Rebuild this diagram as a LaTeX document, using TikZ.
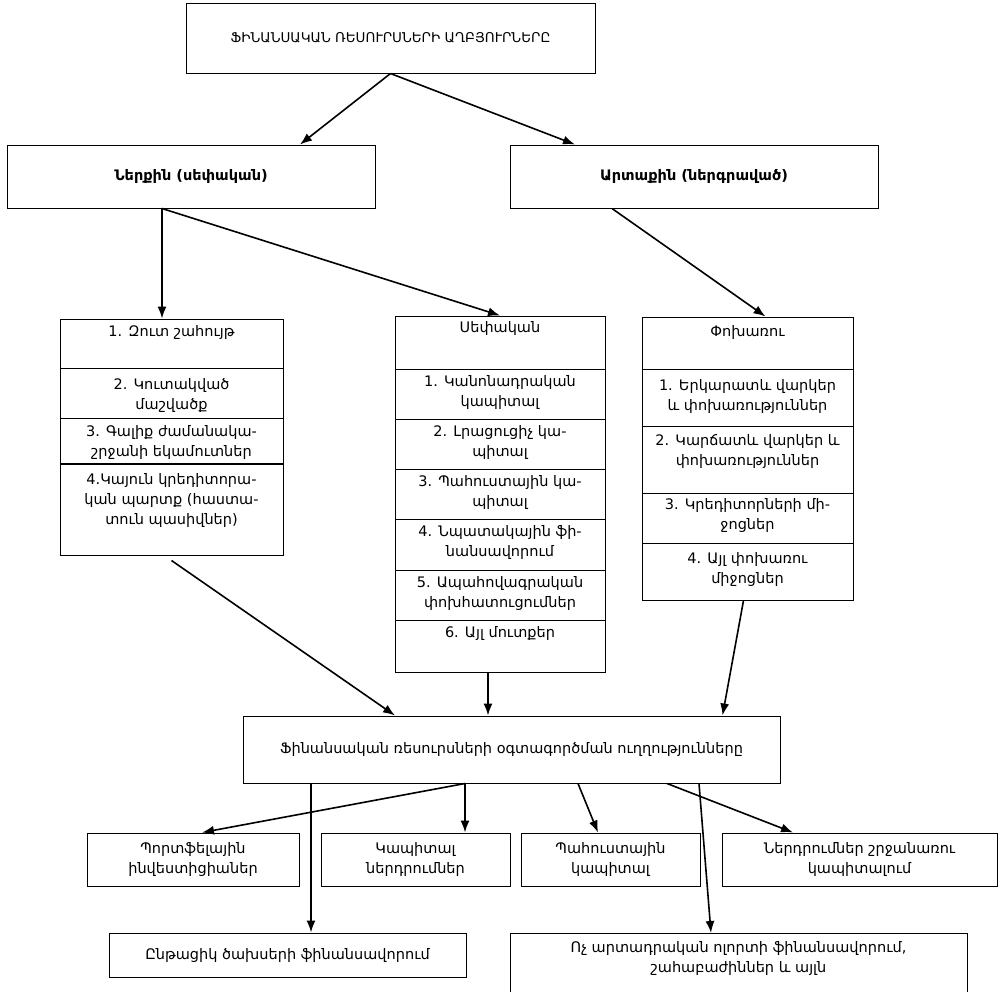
\documentclass[tikz,border=0pt]{standalone}
\usepackage{fontspec}
\setmainfont{DejaVu Sans}
\usetikzlibrary{arrows.meta}
\begin{document}
\begin{tikzpicture}[x=1pt,y=-1pt,
  txtfont/.style={font=\fontsize{14.5}{20}\selectfont},
  box/.style={draw, line width=1pt, inner sep=0pt, align=center, txtfont},
  lcell/.style={draw, line width=1pt, inner sep=0pt, minimum width=223},
  mcell/.style={draw, line width=1pt, inner sep=0pt, minimum width=210},
  rcell/.style={draw, line width=1pt, inner sep=0pt, minimum width=211},
  ctext/.style={anchor=north, align=center, inner sep=0pt, txtfont},
  sep/.style={line width=1.8pt},
  arr/.style={-{Latex[length=12pt,width=9pt]}, line width=1.6pt}
]
\useasboundingbox (0,0) rectangle (1004,991);

% title and the two groups of sources
\node[box, minimum width=409, minimum height=70, font=\fontsize{13.5}{18}\selectfont] (top) at (390.5,38) {ՖԻՆԱՆՍԱԿԱՆ ՌԵՍՈՒՐՍՆԵՐԻ ԱՂԲՅՈՒՐՆԵՐԸ};
\node[box, minimum width=368, minimum height=63, font=\fontsize{14.5}{18}\selectfont\bfseries] (hl) at (191,176.5) {Ներքին (սեփական)};
\node[box, minimum width=368, minimum height=63, font=\fontsize{14.5}{18}\selectfont\bfseries] (hr) at (694,176.5) {Արտաքին (ներգրաված)};

% left column
\node[lcell, minimum height=49] (lc1) at (171.5,343.5) {};
\node[lcell, minimum height=50] (lc2) at (171.5,393) {};
\node[lcell, minimum height=46] (lc3) at (171.5,441) {};
\node[lcell, minimum height=91] (lc4) at (171.5,509.5) {};
\draw[sep] (lc4.north west) -- (lc4.north east);
\node[ctext] (lt1) at ([yshift=-7pt]lc1.north) {1. Զուտ շահույթ};
\node[ctext] (lt2) at ([yshift=-11pt]lc2.north) {2. Կուտակված\\մաշվածք};
\node[ctext] (lt3) at ([yshift=-8pt]lc3.north) {3. Գալիք ժամանակա-\\շրջանի եկամուտներ};
\node[ctext] (lt4) at ([yshift=-10pt]lc4.north) {4.Կայուն կրեդիտորա-\\կան պարտք (հաստա-\\տուն պասիվներ)};

% middle column
\node[mcell, minimum height=53] (mc0) at (500,342.5) {};
\node[mcell, minimum height=50] (mc1) at (500,394) {};
\node[mcell, minimum height=50] (mc2) at (500,444) {};
\node[mcell, minimum height=50] (mc3) at (500,494) {};
\node[mcell, minimum height=51] (mc4) at (500,544.5) {};
\node[mcell, minimum height=50] (mc5) at (500,595) {};
\node[mcell, minimum height=52] (mc6) at (500,646) {};
\draw[sep] (mc0.south west) -- (mc0.south east);
\node[ctext] (mt0) at ([yshift=-6pt]mc0.north) {Սեփական};
\node[ctext] (mt1) at ([yshift=-7pt]mc1.north) {1. Կանոնադրական\\կապիտալ};
\node[ctext] (mt2) at ([yshift=-7pt]mc2.north) {2. Լրացուցիչ կա-\\պիտալ};
\node[ctext] (mt3) at ([yshift=-7pt]mc3.north) {3. Պահուստային կա-\\պիտալ};
\node[ctext] (mt4) at ([yshift=-7pt]mc4.north) {4. Նպատակային ֆի-\\նանսավորում};
\node[ctext] (mt5) at ([yshift=-7pt]mc5.north) {5. Ապահովագրական\\փոխհատուցումներ};
\node[ctext] (mt6) at ([yshift=-7pt]mc6.north) {6. Այլ մուտքեր};

% right column
\node[rcell, minimum height=52] (rc0) at (747.5,343) {};
\node[rcell, minimum height=57] (rc1) at (747.5,397.5) {};
\node[rcell, minimum height=67] (rc2) at (747.5,459.5) {};
\node[rcell, minimum height=50] (rc3) at (747.5,518) {};
\node[rcell, minimum height=57] (rc4) at (747.5,571.5) {};
\draw[sep] (rc0.south west) -- (rc0.south east);
\draw[sep] (rc1.south west) -- (rc1.south east);
\node[ctext] (rt0) at ([yshift=-9pt]rc0.north) {Փոխառու};
\node[ctext] (rt1) at ([yshift=-11pt]rc1.north) {1. Երկարատև վարկեր\\և փոխառություններ};
\node[ctext] (rt2) at ([yshift=-9pt]rc2.north) {2. Կարճատև վարկեր և\\փոխառություններ};
\node[ctext] (rt3) at ([yshift=-6pt]rc3.north) {3. Կրեդիտորների մի-\\ջոցներ};
\node[ctext] (rt4) at ([yshift=-10pt]rc4.north) {4. Այլ փոխառու\\միջոցներ};

% uses of the resources
\node[box, minimum width=537, minimum height=67] (mb) at (511.5,749.5) {Ֆինանսական ռեսուրսների օգտագործման ուղղությունները};
\node[box, minimum width=212, minimum height=53] (p1) at (193,859.5) {Պորտֆելային\\ինվեստիցիաներ};
\node[box, minimum width=189, minimum height=53] (p2) at (415.5,859.5) {Կապիտալ\\ներդրումներ};
\node[box, minimum width=179, minimum height=53] (p3) at (610.5,859.5) {Պահուստային\\կապիտալ};
\node[box, minimum width=275, minimum height=53] (p4) at (859.5,859.5) {Ներդրումներ շրջանառու\\կապիտալում};
\node[box, minimum width=357, minimum height=44] (q1) at (287.5,955) {Ընթացիկ ծախսերի ֆինանսավորում};
\node[box, minimum width=457, minimum height=67, anchor=north] (q2) at (738.5,933) {};
\node[ctext] (q2t) at ([yshift=-8pt]q2.north) {Ոչ արտադրական ոլորտի ֆինանսավորում,\\շահաբաժիններ և այլն};

% connectors
\draw[arr] (top.south) -- ([xshift=109pt]hl.north);
\draw[arr] (top.south) -- ([xshift=-119pt]hr.north);
\draw[arr] ([xshift=-29pt]hl.south) -- ([xshift=-9.5pt]lc1.north);
\draw[arr] ([xshift=-29pt]hl.south) -- (mc0.north);
\draw[arr] ([xshift=-82pt]hr.south) -- ([xshift=18pt]rc0.north);
\draw[arr] ([yshift=-5pt]lc4.south) -- ([xshift=-116.5pt]mb.north);
\draw[arr] ([xshift=-12pt]mc6.south) -- ([xshift=-23.5pt]mb.north);
\draw[arr] ([xshift=-4pt]rc4.south) -- ([xshift=211pt]mb.north);
\draw[arr] ([xshift=-46.5pt]mb.south) -- ([xshift=9pt]p1.north);
\draw[arr] ([xshift=-46.5pt]mb.south) -- ([xshift=49.5pt]p2.north);
\draw[arr] ([xshift=-200.5pt]mb.south) -- ([xshift=23.5pt]q1.north);
\draw[arr] ([xshift=66.5pt]mb.south) -- ([xshift=-12.5pt]p3.north);
\draw[arr] ([xshift=155.5pt]mb.south) -- ([xshift=-66.5pt]p4.north);
\draw[arr] ([xshift=187.5pt]mb.south) -- ([xshift=-27.5pt]q2.north);
\end{tikzpicture}
\end{document}
